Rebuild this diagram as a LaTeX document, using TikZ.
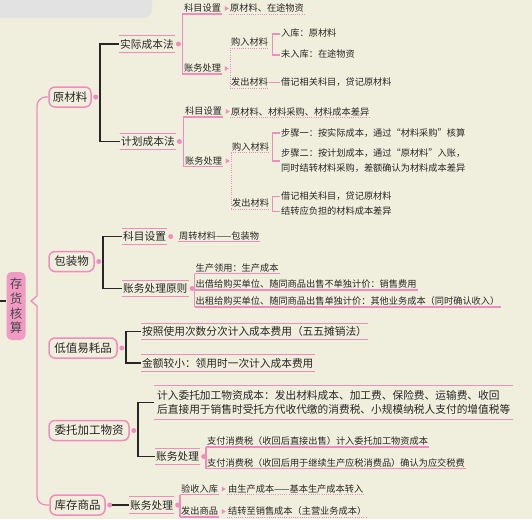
\documentclass[tikz,border=0pt]{standalone}
\usepackage{fontspec}
\setmainfont{Noto Sans CJK SC}
\usetikzlibrary{calc}
\definecolor{bg}{RGB}{240,238,220}
\definecolor{pk}{RGB}{240,140,190}
\definecolor{rootpk}{RGB}{241,155,196}
\definecolor{txt}{RGB}{38,38,38}
\definecolor{gb}{RGB}{226,226,226}
\tikzset{
  every node/.style={inner sep=0pt,text=txt},
  pl/.style={draw=pk,line width=1.3pt},
  dl/.style={draw=pk,line width=1pt,dash pattern=on 1pt off 1.2pt},
  bl/.style={draw=black!85,line width=1.1pt},
  dotn/.style={circle,fill=pk,minimum size=5pt,inner sep=0pt},
  root/.style={fill=rootpk,rounded corners=5pt,minimum width=19pt,minimum height=68pt,align=center,font=\fontsize{12.5}{14.7}\selectfont,text=black!72},
  lone/.style={draw=pk,line width=1.5pt,rounded corners=6pt,fill=bg,font=\fontsize{11.5}{13}\selectfont,minimum height=20pt},
  bar/.style={anchor=west,font=\fontsize{10.7}{14.5}\selectfont,inner xsep=1pt,minimum height=16pt,
    append after command={(\tikzlastnode.north west) edge[pl] (\tikzlastnode.north east)
                          (\tikzlastnode.south west) edge[pl] (\tikzlastnode.south east)}},
  sm/.style={anchor=west,font=\fontsize{9.2}{15}\selectfont,inner xsep=1pt,inner ysep=1pt,text height=7.4pt,text depth=1.4pt},
  ul/.style={sm,append after command={(\tikzlastnode.south west) edge[pl] (\tikzlastnode.south east)}},
  dul/.style={sm,append after command={(\tikzlastnode.south west) edge[dl] (\tikzlastnode.south east)}},
  mk/.pic={\fill[pk] (-1.8,-2.4) -- (2,0) -- (-1.8,2.4) -- cycle;}
}
\begin{document}
\begin{tikzpicture}[x=1pt,y=-1pt]
\fill[bg] (0,0) rectangle (532,519);
\useasboundingbox (0,0) rectangle (532,519);
\fill[gb,rounded corners=9pt] (-12,-12) rectangle (152,18);

% root
\node[root] (root) at (16,306) {存\\货\\核\\算};
\coordinate (lstart) at (0,301);
\draw[bl] (lstart) -- (root.west |- lstart);

% level 1
\node[lone,minimum width=42pt] (yl) at (70,97) {原材料};
\node[lone,minimum width=45pt] (bz) at (71.5,261.5) {包装物};
\node[lone,minimum width=68pt] (dz) at (83,348) {低值易耗品};
\node[lone,minimum width=80pt] (wt) at (89,430.5) {委托加工物资};
\node[lone,minimum width=55pt] (kc) at (77.5,505) {库存商品};

% spine
\coordinate (sp1) at (37,296);
\coordinate (nt) at (31,301);
\coordinate (sp2) at (37,306);
\draw[pl,rounded corners=9pt] (yl.west) -| (sp1);
\draw[pl] (sp1) -- (nt) -- (sp2);
\draw[pl,rounded corners=9pt] (sp2) |- (kc.west);

\node[dotn] (d1) at ([xshift=4pt]yl.east) {};
\node[dotn] (d2) at ([xshift=4pt]bz.east) {};
\node[dotn] (d3) at ([xshift=4pt]dz.east) {};
\node[dotn] (d4) at ([xshift=4pt]wt.east) {};
\node[dotn] (d5) at ([xshift=4pt]kc.east) {};

% ===== 原材料 =====
\node[bar] (sj) at (119,44) {实际成本法};
\node[bar] (jh) at (120,141.5) {计划成本法};
\draw[bl] (sj.west) -| ([xshift=1.5pt]d1.east) |- (jh.west);

% 实际成本法
\node[dotn] (s1d) at ([xshift=3.5pt]sj.east) {};
\node[ul] (k1) at (183,8.5) {科目设置};
\node[ul] (z1) at (183,68.5) {账务处理};
\draw[pl] (k1.south west) -| ([xshift=1.5pt]s1d.east) |- (z1.south west);
\pic at ([xshift=4.5pt]k1.east) {mk};
\pic at ([xshift=4.5pt]z1.east) {mk};
\node[dul] (yz1) at (229,8.5) {原材料、在途物资};
\node[dul] (g1) at (230,42.5) {购入材料};
\node[dul] (f1) at (230,82.5) {发出材料};
\draw[dl] (g1.south west) -- (f1.south west);
\node[sm] (rk) at (280,34) {入库：原材料};
\node[sm] (wrk) at (280,55) {未入库：在途物资};
\draw[pl] (rk.west) -| ([xshift=3pt]g1.east) |- (wrk.west);
\node[sm] (jj1) at (280,82.5) {借记相关科目，贷记原材料};
\draw[pl] (f1.east) -- (jj1.west);

% 计划成本法
\node[dotn] (s2d) at ([xshift=3.5pt]jh.east) {};
\node[ul] (k2) at (184,111.5) {科目设置};
\node[ul] (z2) at (184,161) {账务处理};
\draw[pl] (k2.south west) -| ([xshift=1.5pt]s2d.east) |- (z2.south west);
\pic at ([xshift=4.5pt]k2.east) {mk};
\pic at ([xshift=4.5pt]z2.east) {mk};
\node[dul] (yz2) at (230,112) {原材料、材料采购、材料成本差异};
\node[dul] (g2) at (231,147) {购入材料};
\node[dul] (f2) at (231,203.5) {发出材料};
\draw[dl] (g2.south west) -- (f2.south west);
\node[sm] (b1) at (280,133) {步骤一：按实际成本，通过“材料采购”核算};
\node[sm,text height=,text depth=,align=left] (b2) at (280,161) {步骤二：按计划成本，通过“原材料”入账，\\同时结转材料采购，差额确认为材料成本差异};
\draw[pl] (b1.west) -| ([xshift=2pt]g2.east) |- (b2.west);
\node[sm] (jj2) at (280,196.5) {借记相关科目，贷记原材料};
\node[sm] (jz) at (280,211.5) {结转应负担的材料成本差异};
\draw[pl] (jj2.west) -| ([xshift=2pt]f2.east) |- (jz.west);

% ===== 包装物 =====
\node[bar] (km) at (122,236.5) {科目设置};
\node[bar] (zc) at (122,288.5) {账务处理原则};
\draw[bl] (km.west) -| ([xshift=1.5pt]d2.east) |- (zc.west);
\node[dotn] (kmd) at ([xshift=3.5pt]km.east) {};
\node[ul] (zz) at (178,236) {周转材料——包装物};
\node[dotn] (zcd) at ([xshift=3.5pt]zc.east) {};
\node[ul] (sc) at (194.5,268) {生产领用：生产成本};
\node[ul] (cj) at (194.5,284.5) {出借给购买单位、随同商品出售不单独计价：销售费用};
\node[ul] (cz) at (194.5,301.5) {出租给购买单位、随同商品出售单独计价：其他业务成本（同时确认收入）};
\draw[pl] (sc.south west) -- (cz.south west);

% ===== 低值易耗品 =====
\node[bar] (az) at (141,331.5) {按照使用次数分次计入成本费用（五五摊销法）};
\node[bar] (je) at (141,363) {金额较小：领用时一次计入成本费用};
\draw[bl] (az.west) -| ([xshift=1.5pt]d3.east) |- (je.west);

% ===== 委托加工物资 =====
\node[bar,align=left,minimum height=33pt,minimum width=359pt] (jr) at (154,402.5) {计入委托加工物资成本：发出材料成本、加工费、保险费、运输费、收回\\后直接用于销售时受托方代收代缴的消费税、小规模纳税人支付的增值税等};
\node[bar] (wz) at (155,456.5) {账务处理};
\draw[bl] (jr.west) -| ([xshift=1.5pt]d4.east) |- (wz.west);
\node[dotn] (wzd) at ([xshift=3.5pt]wz.east) {};
\node[ul] (zf1) at (206,441.5) {支付消费税（收回后直接出售）计入委托加工物资成本};
\node[ul] (zf2) at (206,463) {支付消费税（收回后用于继续生产应税消费品）确认为应交税费};
\draw[pl] (zf1.south west) -- (zf2.south west);

% ===== 库存商品 =====
\node[bar] (zw3) at (129,505) {账务处理};
\draw[bl] (d5.east) -- (zw3.west);
\node[dotn] (zw3d) at ([xshift=3.5pt]zw3.east) {};
\node[ul] (ys) at (180,489) {验收入库};
\node[ul] (fc) at (180,511.5) {发出商品};
\draw[pl] (ys.south west) -- (fc.south west);
\pic at ([xshift=4.5pt]ys.east) {mk};
\pic at ([xshift=4.5pt]fc.east) {mk};
\node[dul] (yst) at (227,489) {由生产成本——基本生产成本转入};
\node[dul] (fct) at (227,511.5) {结转至销售成本（主营业务成本）};
\end{tikzpicture}
\end{document}
